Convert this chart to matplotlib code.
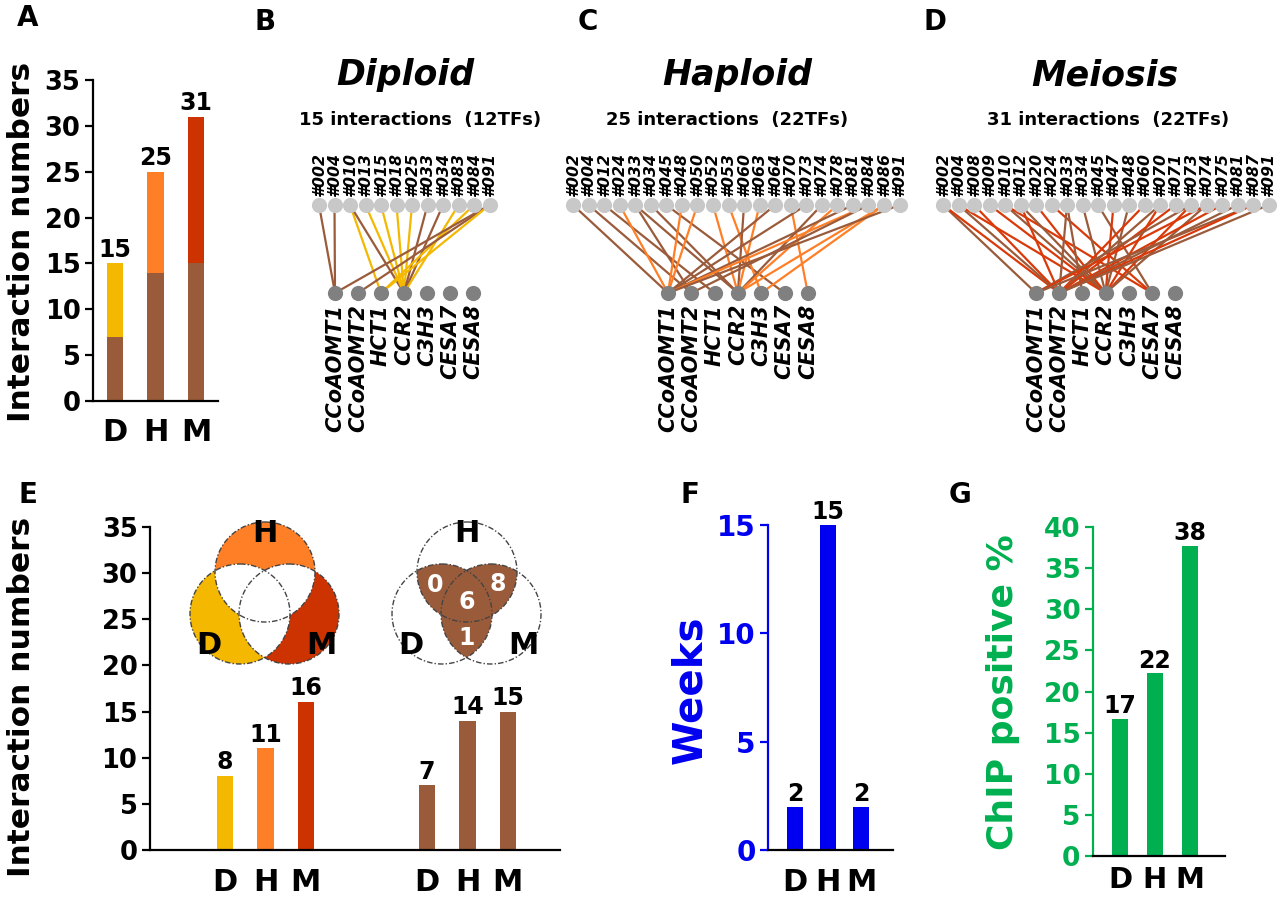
import matplotlib
matplotlib.use('Agg')
import matplotlib.pyplot as plt
from matplotlib.patches import Circle

plt.rcParams['font.family'] = ['DejaVu Sans']
plt.rcParams['font.weight'] = 'bold'

# ---------------- data ----------------
cats = ['D', 'H', 'M']

# Panel A: stacked interaction numbers
a_shared = [7, 14, 15]
a_specific = [8, 11, 16]
a_totals = [15, 25, 31]

# Panel B-D: networks
net_titles = ['Diploid', 'Haploid', 'Meiosis']
net_subtitles = ['15 interactions  (12TFs)', '25 interactions  (22TFs)',
                 '31 interactions  (22TFs)']
genes = ['CCoAOMT1', 'CCoAOMT2', 'HCT1', 'CCR2', 'C3H3', 'CESA7', 'CESA8']
tfs_D = ['#002', '#004', '#010', '#013', '#015', '#018', '#025', '#033',
         '#034', '#083', '#084', '#091']
tfs_H = ['#002', '#004', '#012', '#024', '#033', '#034', '#045', '#048',
         '#050', '#052', '#053', '#060', '#063', '#064', '#070', '#073',
         '#074', '#078', '#081', '#084', '#086', '#091']
tfs_M = ['#002', '#004', '#008', '#009', '#010', '#012', '#020', '#024',
         '#033', '#034', '#045', '#047', '#048', '#060', '#070', '#071',
         '#073', '#074', '#075', '#081', '#087', '#091']
# edges: (TF index, gene index)
edges_D_shared = [(0, 0), (1, 0), (2, 3), (7, 3), (8, 3), (11, 0), (11, 1)]
edges_D_specific = [(2, 2), (3, 3), (4, 3), (5, 3), (6, 3), (9, 3), (10, 2), (11, 2)]
edges_H_shared = [(0, 0), (1, 1), (2, 2), (4, 1), (4, 3), (5, 3), (6, 5), (11, 3),
                  (13, 0), (15, 0), (16, 3), (18, 0), (19, 1), (21, 0)]
edges_H_specific = [(3, 0), (7, 0), (8, 0), (9, 3), (10, 4), (12, 3), (14, 6),
                    (17, 3), (19, 0), (20, 3), (20, 4)]
edges_M_shared = [(0, 0), (1, 1), (4, 3), (5, 3), (8, 1), (8, 2), (9, 3), (10, 5),
                  (12, 3), (14, 1), (16, 0), (17, 3), (19, 1), (20, 0), (21, 1)]
edges_M_specific = [(0, 1), (1, 3), (2, 1), (3, 3), (4, 5), (5, 1), (6, 3), (7, 5),
                    (11, 3), (13, 1), (14, 3), (15, 1), (16, 3), (17, 0), (18, 1), (20, 1)]

# Panel E
e_specific = [8, 11, 16]
e_shared = [7, 14, 15]
venn_shared_counts = ['0', '8', '6', '1']  # H&D, H&M, all, D&M

# Panel F
f_weeks = [2, 15, 2]
# Panel G
g_chip = [16.7, 22.2, 37.7]
g_labels = ['17', '22', '38']

# ---------------- style ----------------
BROWN = '#9A5B3B'
YELLOW = '#F4B800'
ORANGE = '#FF7F27'
RED = '#CC3300'
EDGE_RED = '#D93A0A'
BLUE = '#0000F0'
GREEN = '#00B050'
stage_colors = [YELLOW, ORANGE, RED]

W, H = 1280, 899
fig = plt.figure(figsize=(12.8, 8.99), dpi=100)


def rect(l, t, r, b):
    return [l / W, 1 - b / H, (r - l) / W, (b - t) / H]


def style_axes(ax, color='black', tick_size=18.5, lw=1.6):
    for s in ['top', 'right']:
        ax.spines[s].set_visible(False)
    ax.spines['left'].set_color(color)
    ax.spines['left'].set_linewidth(lw)
    ax.spines['bottom'].set_linewidth(lw)
    ax.tick_params(axis='y', colors=color, labelsize=tick_size, width=lw,
                   length=6, direction='out', pad=3)
    for t in ax.get_yticklabels():
        t.set_fontweight('bold')


# ---------------- Panel A ----------------
axA = fig.add_axes(rect(93, 80, 218, 401))
xa = [0, 1, 2]
axA.bar(xa, a_shared, width=0.4, color=BROWN)
axA.bar(xa, a_specific, width=0.4, bottom=a_shared, color=stage_colors)
for x, t in zip(xa, a_totals):
    axA.text(x, t + 0.2, str(t), ha='center', va='bottom', fontsize=17, fontweight='bold')
axA.set_xlim(-0.54, 2.54)
axA.set_ylim(0, 35)
axA.set_yticks(range(0, 36, 5))
style_axes(axA)
axA.set_xticks(xa)
axA.set_xticklabels(cats, fontsize=22, fontweight='bold')
axA.tick_params(axis='x', length=0, pad=12)
fig.text(22 / W, 1 - 242 / H, 'Interaction numbers', rotation=90, ha='center',
         va='center', fontsize=22.5, fontweight='bold')

# ---------------- Panel E ----------------
axE = fig.add_axes(rect(150, 527, 560, 850))
xe1 = [0, 1, 2]
xe2 = [5, 6, 7]
axE.bar(xe1, e_specific, width=0.4, color=stage_colors)
axE.bar(xe2, e_shared, width=0.4, color=BROWN)
for x, v in zip(xe1 + xe2, e_specific + e_shared):
    axE.text(x, v + 0.2, str(v), ha='center', va='bottom', fontsize=17, fontweight='bold')
axE.set_xlim(-1.86, 8.29)
axE.set_ylim(0, 35)
axE.set_yticks(range(0, 36, 5))
style_axes(axE)
axE.set_xticks(xe1 + xe2)
axE.set_xticklabels(cats + cats, fontsize=22, fontweight='bold')
axE.tick_params(axis='x', length=0, pad=13)
fig.text(22 / W, 1 - 697 / H, 'Interaction numbers', rotation=90, ha='center',
         va='center', fontsize=22.5, fontweight='bold')

# ---------------- Panel F ----------------
axF = fig.add_axes(rect(768, 525, 893, 850))
xf = [0, 1, 2]
axF.bar(xf, f_weeks, width=0.5, color=BLUE)
for x, v in zip(xf, f_weeks):
    axF.text(x, v + 0.05, str(v), ha='center', va='bottom', fontsize=17, fontweight='bold')
axF.set_xlim(-0.82, 2.97)
axF.set_ylim(0, 15)
axF.set_yticks([0, 5, 10, 15])
style_axes(axF, color=BLUE, tick_size=20)
axF.set_xticks(xf)
axF.set_xticklabels(cats, fontsize=22, fontweight='bold')
axF.tick_params(axis='x', length=0, pad=13)
fig.text(690 / W, 1 - 690 / H, 'Weeks', rotation=90, ha='center', va='center',
         fontsize=29, fontweight='bold', color=BLUE)

# ---------------- Panel G ----------------
axG = fig.add_axes(rect(1093, 527, 1225, 856))
xg = [0, 1, 2]
axG.bar(xg, g_chip, width=0.45, color=GREEN)
for x, v, lab in zip(xg, g_chip, g_labels):
    axG.text(x, v + 0.1, lab, ha='center', va='bottom', fontsize=17, fontweight='bold')
axG.set_xlim(-0.77, 3.0)
axG.set_ylim(0, 40)
axG.set_yticks(range(0, 41, 5))
style_axes(axG, color=GREEN, tick_size=19)
axG.set_xticks(xg)
axG.set_xticklabels(cats, fontsize=21, fontweight='bold')
axG.tick_params(axis='x', length=0, pad=7)
fig.text(1003 / W, 1 - 692 / H, 'ChIP positive %', rotation=90, ha='center',
         va='center', fontsize=26, fontweight='bold', color=GREEN)

# ---------------- overlay (networks, venns, letters) ----------------
ov = fig.add_axes([0, 0, 1, 1], zorder=10)
ov.set_xlim(0, W)
ov.set_ylim(H, 0)
ov.axis('off')
ov.patch.set_visible(False)

nets = [
    dict(tfs=tfs_D, sh=edges_D_shared, sp=edges_D_specific, col=YELLOW,
         tx0=319, tstep=15.5, gx0=335, gstep=23.0, title_x=405, sub_x=420),
    dict(tfs=tfs_H, sh=edges_H_shared, sp=edges_H_specific, col=ORANGE,
         tx0=573, tstep=15.55, gx0=668, gstep=23.3, title_x=737, sub_x=727),
    dict(tfs=tfs_M, sh=edges_M_shared, sp=edges_M_specific, col=EDGE_RED,
         tx0=943, tstep=15.5, gx0=1036, gstep=23.2, title_x=1105, sub_x=1108),
]
TY, GY = 205, 293
for k, n in enumerate(nets):
    tx = [n['tx0'] + i * n['tstep'] for i in range(len(n['tfs']))]
    gx = [n['gx0'] + j * n['gstep'] for j in range(len(genes))]
    allE = [(e, BROWN) for e in n['sh']] + [(e, n['col']) for e in n['sp']]
    allE.sort(key=lambda z: (z[0][0], z[0][1]))
    for (i, j), c in allE:
        ov.plot([tx[i], gx[j]], [TY, GY], color=c, lw=1.6, solid_capstyle='round', zorder=2)
    ov.scatter(tx, [TY] * len(tx), s=120, color='#C8C8C8', zorder=3, linewidths=0)
    ov.scatter(gx, [GY] * len(gx), s=120, color='#808080', zorder=3, linewidths=0)
    for x, t in zip(tx, n['tfs']):
        ov.text(x, TY - 9, t, rotation=90, ha='center', va='bottom', fontsize=11.3,
                fontweight='bold', fontstyle='italic')
    for x, g in zip(gx, genes):
        ov.text(x, GY + 11, g, rotation=90, ha='center', va='top', fontsize=15,
                fontweight='bold', fontstyle='italic')
    ov.text(n['title_x'], 75, net_titles[k], ha='center', va='center', fontsize=25,
            fontweight='bold', fontstyle='italic')
    ov.text(n['sub_x'], 120, net_subtitles[k], ha='center', va='center', fontsize=13,
            fontweight='bold')


# Venn diagrams
def venn(cx, cy, r, single_cols, pair_col):
    centers = {'H': (cx, cy - 21), 'D': (cx - 25, cy + 21), 'M': (cx + 24, cy + 21)}
    for key in ['H', 'D', 'M']:
        ov.add_patch(Circle(centers[key], r, facecolor=single_cols[key],
                            edgecolor='none', zorder=4))
    for a, b in [('D', 'H'), ('M', 'H'), ('M', 'D')]:
        p = Circle(centers[a], r, facecolor=pair_col, edgecolor='none', zorder=5)
        ov.add_patch(p)
        clip = Circle(centers[b], r, transform=ov.transData)
        p.set_clip_path(clip)
    for key in ['H', 'D', 'M']:
        ov.add_patch(Circle(centers[key], r, fill=False, edgecolor='#444444', lw=1.0,
                            linestyle=(0, (4, 1.5, 1, 1.5)), zorder=6))


venn(265, 593, 50, {'H': ORANGE, 'D': YELLOW, 'M': RED}, 'white')
venn(467, 593, 50, {'H': 'white', 'D': 'white', 'M': 'white'}, BROWN)
for dx in [0, 202]:
    ov.text(265 + dx, 533, 'H', ha='center', va='center', fontsize=22, fontweight='bold', zorder=7)
    ov.text(209 + dx, 646, 'D', ha='center', va='center', fontsize=22, fontweight='bold', zorder=7)
    ov.text(321 + dx, 646, 'M', ha='center', va='center', fontsize=22, fontweight='bold', zorder=7)
for (x, y), s in zip([(435, 585), (498, 584), (467, 602), (467, 638)], venn_shared_counts):
    ov.text(x, y, s, ha='center', va='center', fontsize=17, fontweight='bold',
            color='white', zorder=7)

# Panel letters
for lab, (x, y) in zip('ABCDEFG', [(28, 18), (265, 22), (588, 22), (935, 22),
                                   (28, 495), (690, 495), (960, 495)]):
    ov.text(x, y, lab, ha='center', va='center', fontsize=20, fontweight='bold')

fig.savefig('out.png', dpi=100)
